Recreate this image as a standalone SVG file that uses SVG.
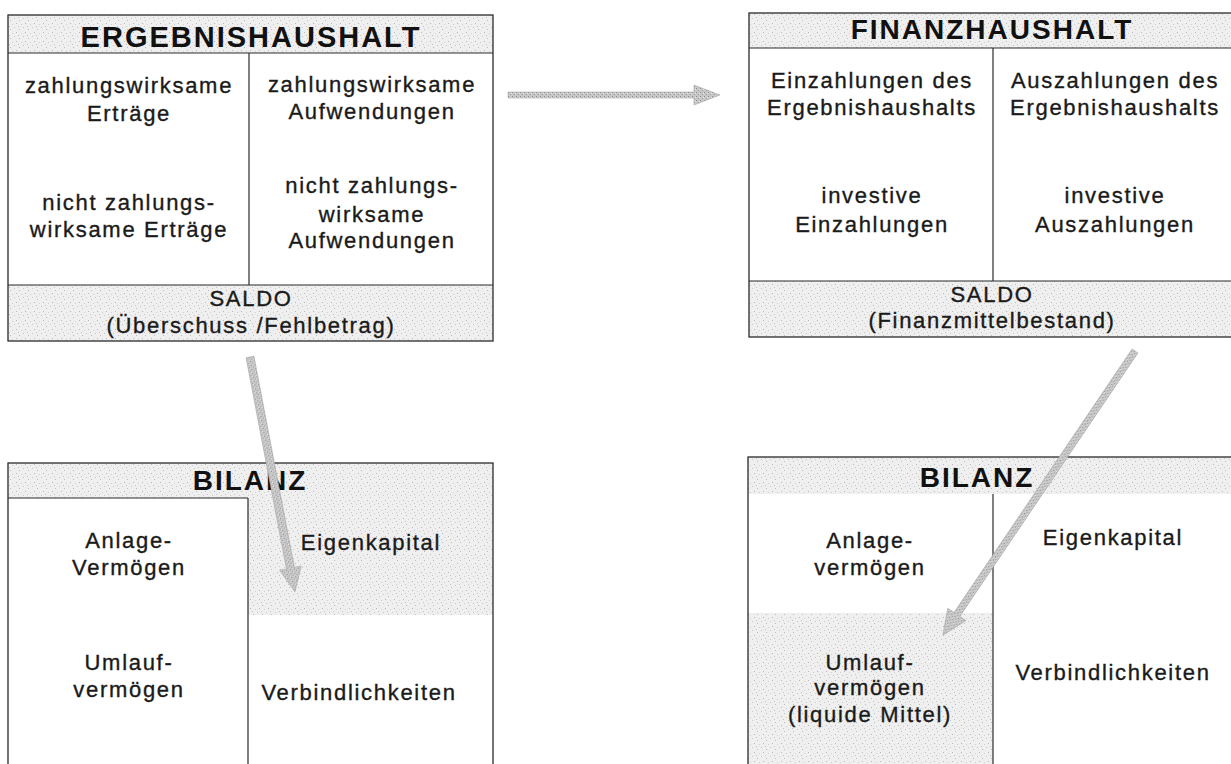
<svg xmlns="http://www.w3.org/2000/svg" width="1231" height="764" viewBox="0 0 1231 764">
<defs>
<pattern id="stip" width="9" height="9" patternUnits="userSpaceOnUse">
<rect width="9" height="9" fill="#efefef"/>
<rect x="1" y="2" width="1" height="1" fill="#bdbdbd"/>
<rect x="5" y="0" width="1" height="1" fill="#c8c8c8"/>
<rect x="7" y="5" width="1" height="1" fill="#b8b8b8"/>
<rect x="3" y="6" width="1" height="1" fill="#cfcfcf"/>
<rect x="0" y="8" width="1" height="1" fill="#c4c4c4"/>
</pattern>
<pattern id="astip" width="4" height="4" patternUnits="userSpaceOnUse">
<rect width="4" height="4" fill="#c8c8c8"/>
<rect x="0" y="0" width="1" height="1" fill="#8a8a8a"/>
<rect x="2" y="2" width="1" height="1" fill="#9a9a9a"/>
<rect x="3" y="1" width="1" height="1" fill="#e6e6e6"/>
</pattern>
<style>
.shade{fill:url(#stip);stroke:none}
.frame{fill:none;stroke:#2a2a2a;stroke-width:1.3}
.div{stroke:#2a2a2a;stroke-width:1.2}
.hd{font-family:"Liberation Sans",Arial,sans-serif;font-weight:bold;font-size:28px;letter-spacing:2px;fill:#111;text-anchor:middle}
.tx{font-family:"Liberation Sans",Arial,sans-serif;font-size:22px;letter-spacing:1.7px;fill:#1a1a1a;stroke:#1a1a1a;stroke-width:0.35;text-anchor:middle}
.arr{fill:url(#astip);stroke:#a8a8a8;stroke-width:0.6}
</style>
</defs>

<g id="ergebnishaushalt">
<rect class="shade" x="8" y="15" width="485" height="38"/>
<rect class="shade" x="8" y="285" width="485" height="56"/>
<rect class="frame" x="8" y="15" width="485" height="326"/>
<line class="div" x1="8" y1="53" x2="493" y2="53"/>
<line class="div" x1="8" y1="285" x2="493" y2="285"/>
<line class="div" x1="249" y1="53" x2="249" y2="285"/>
<text class="hd" x="251" y="47" style="font-size:29px">ERGEBNISHAUSHALT</text>
<text class="tx" x="129" y="93">zahlungswirksame</text>
<text class="tx" x="129" y="121">Erträge</text>
<text class="tx" x="129" y="210">nicht zahlungs-</text>
<text class="tx" x="129" y="237">wirksame Erträge</text>
<text class="tx" x="372" y="92">zahlungswirksame</text>
<text class="tx" x="372" y="119">Aufwendungen</text>
<text class="tx" x="372" y="193">nicht zahlungs-</text>
<text class="tx" x="372" y="222">wirksame</text>
<text class="tx" x="372" y="248">Aufwendungen</text>
<text class="tx" x="251" y="306">SALDO</text>
<text class="tx" x="251" y="333">(Überschuss /Fehlbetrag)</text>
</g>

<g id="finanzhaushalt">
<rect class="shade" x="749" y="13" width="485" height="35"/>
<rect class="shade" x="749" y="281" width="485" height="56"/>
<rect class="frame" x="749" y="13" width="485" height="324"/>
<line class="div" x1="749" y1="48" x2="1231" y2="48"/>
<line class="div" x1="749" y1="281" x2="1231" y2="281"/>
<line class="div" x1="993" y1="48" x2="993" y2="281"/>
<text class="hd" x="992" y="39">FINANZHAUSHALT</text>
<text class="tx" x="872" y="88">Einzahlungen des</text>
<text class="tx" x="872" y="115">Ergebnishaushalts</text>
<text class="tx" x="872" y="203">investive</text>
<text class="tx" x="872" y="232">Einzahlungen</text>
<text class="tx" x="1115" y="88">Auszahlungen des</text>
<text class="tx" x="1115" y="115">Ergebnishaushalts</text>
<text class="tx" x="1115" y="203">investive</text>
<text class="tx" x="1115" y="232">Auszahlungen</text>
<text class="tx" x="992" y="302">SALDO</text>
<text class="tx" x="992" y="328">(Finanzmittelbestand)</text>
</g>

<g id="bilanz-ergebnis">
<rect class="shade" x="8" y="463" width="485" height="35"/>
<rect class="shade" x="248" y="498" width="245" height="117"/>
<rect class="frame" x="8" y="463" width="485" height="310"/>
<line class="div" x1="8" y1="498" x2="248" y2="498"/>
<line class="div" x1="248" y1="498" x2="248" y2="764"/>
<text class="hd" x="250" y="490">BILANZ</text>
<text class="tx" x="129" y="548">Anlage-</text>
<text class="tx" x="129" y="575">Vermögen</text>
<text class="tx" x="129" y="670">Umlauf-</text>
<text class="tx" x="129" y="697">vermögen</text>
<text class="tx" x="371" y="550">Eigenkapital</text>
<text class="tx" x="359" y="700">Verbindlichkeiten</text>
</g>

<g id="bilanz-finanz">
<rect class="shade" x="748" y="457" width="486" height="37"/>
<rect class="shade" x="748" y="613" width="245" height="151"/>
<rect class="frame" x="748" y="457" width="486" height="320"/>
<line class="div" x1="993" y1="494" x2="993" y2="764"/>
<text class="hd" x="977" y="487">BILANZ</text>
<text class="tx" x="870" y="548">Anlage-</text>
<text class="tx" x="870" y="575">vermögen</text>
<text class="tx" x="870" y="670">Umlauf-</text>
<text class="tx" x="870" y="695">vermögen</text>
<text class="tx" x="870" y="722">(liquide Mittel)</text>
<text class="tx" x="1113" y="545">Eigenkapital</text>
<text class="tx" x="1113" y="680">Verbindlichkeiten</text>
</g>

<g id="connectors">
<polygon class="arr" points="508,92 694,92 694,85 720,95 694,105 694,98 508,98"/>
<polygon class="arr" transform="translate(250,357) rotate(79.16)" points="0,-4 215,-4 215,-11 239,0 215,11 215,4 0,4"/>
<polygon class="arr" transform="translate(1135,351) rotate(124.06)" points="0,-3.5 318,-3.5 318,-11 343,0 318,11 318,3.5 0,3.5"/>
</g>
</svg>
